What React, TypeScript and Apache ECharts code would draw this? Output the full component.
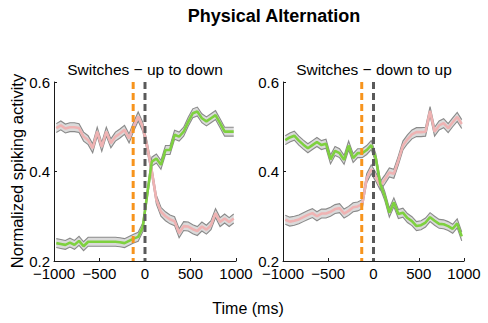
import React, { useEffect, useRef } from "react";
import * as echarts from "echarts";

// Bin centres (ms relative to the switch)
const times = [
  -975, -925, -875, -825, -775, -725, -675, -625, -575, -525,
  -475, -425, -375, -325, -275, -225, -175, -125, -75, -25,
  25, 75, 125, 175, 225, 275, 325, 375, 425, 475,
  525, 575, 625, 675, 725, 775, 825, 875, 925, 975,
];

// Panel 1: Switches – up to down
const upToDownPink = [
  0.497, 0.503, 0.496, 0.499, 0.499, 0.497, 0.478, 0.470, 0.452, 0.489,
  0.455, 0.489, 0.463, 0.478, 0.485, 0.493, 0.474, 0.500, 0.523, 0.500,
  0.455, 0.400, 0.337, 0.310, 0.300, 0.293, 0.289, 0.262, 0.278, 0.277,
  0.271, 0.267, 0.277, 0.270, 0.280, 0.307, 0.287, 0.295, 0.287, 0.295,
];
const upToDownGreen = [
  0.240, 0.238, 0.236, 0.241, 0.236, 0.245, 0.233, 0.243, 0.243, 0.243,
  0.243, 0.243, 0.243, 0.243, 0.242, 0.240, 0.245, 0.250, 0.254, 0.275,
  0.350, 0.422, 0.429, 0.415, 0.448, 0.448, 0.482, 0.478, 0.489, 0.511,
  0.530, 0.534, 0.519, 0.512, 0.519, 0.526, 0.508, 0.489, 0.489, 0.489,
];

// Panel 2: Switches – down to up
const downToUpPink = [
  0.292, 0.288, 0.290, 0.293, 0.298, 0.303, 0.307, 0.300, 0.306, 0.306,
  0.310, 0.316, 0.318, 0.306, 0.312, 0.320, 0.322, 0.327, 0.385, 0.405,
  0.388, 0.368, 0.382, 0.398, 0.395, 0.425, 0.458, 0.472, 0.483, 0.488,
  0.488, 0.489, 0.535, 0.489, 0.503, 0.508, 0.497, 0.510, 0.522, 0.506,
];
const downToUpGreen = [
  0.470, 0.476, 0.480, 0.469, 0.460, 0.452, 0.459, 0.466, 0.459, 0.462,
  0.427, 0.446, 0.441, 0.426, 0.458, 0.430, 0.441, 0.441, 0.448, 0.459,
  0.430, 0.372, 0.345, 0.308, 0.331, 0.305, 0.308, 0.296, 0.289, 0.278,
  0.280, 0.286, 0.298, 0.290, 0.283, 0.282, 0.278, 0.272, 0.284, 0.255,
];

const bandHalfWidth = 0.01; // shaded error (± around the mean)
const cueTime = -130;
const switchTime = 0;
const xTicks = [-1000, -500, 0, 500, 1000];
const yTicks = [0.2, 0.4, 0.6];

const FONT = "'Liberation Sans', Arial, Helvetica, sans-serif";
const PINK = "#efb3b3";
const GREEN = "#7ed13f";
const ORANGE = "#f7941d";
const DARK = "#5a5a5a";

function bandSeries(idx: number, values: number[]) {
  return {
    type: "custom",
    xAxisIndex: idx,
    yAxisIndex: idx,
    data: [[times[0], values[0]]],
    encode: { x: 0, y: 1 },
    silent: true,
    clip: true,
    renderItem: (_params: any, api: any) => {
      const upper = times.map((t, i) => api.coord([t, values[i] + bandHalfWidth]));
      const lower = times.map((t, i) => api.coord([t, values[i] - bandHalfWidth]));
      return {
        type: "group",
        children: [
          {
            type: "polygon",
            shape: { points: upper.concat(lower.slice().reverse()) },
            style: { fill: "#dadada" },
          },
          {
            type: "polyline",
            shape: { points: upper },
            style: { stroke: "#8a8a8a", lineWidth: 1.1, fill: null },
          },
          {
            type: "polyline",
            shape: { points: lower },
            style: { stroke: "#8a8a8a", lineWidth: 1.1, fill: null },
          },
        ],
      };
    },
  };
}

function meanSeries(idx: number, values: number[], color: string) {
  return {
    type: "line",
    xAxisIndex: idx,
    yAxisIndex: idx,
    data: times.map((t, i) => [t, values[i]]),
    symbol: "none",
    silent: true,
    lineStyle: { color, width: 2.6 },
  };
}

function vline(idx: number, t: number, color: string) {
  return {
    type: "line",
    xAxisIndex: idx,
    yAxisIndex: idx,
    data: [
      [t, yTicks[yTicks.length - 1]],
      [t, yTicks[0]],
    ],
    symbol: "none",
    silent: true,
    lineStyle: { color, width: 3, type: [7, 4] },
  };
}

const fmtX = (v: number) => (v < 0 ? "\u2212" + Math.abs(v) : String(v));

function xAxis(idx: number) {
  return {
    type: "value",
    gridIndex: idx,
    min: xTicks[0],
    max: xTicks[xTicks.length - 1],
    interval: 500,
    axisLine: { show: true, onZero: false, lineStyle: { color: "#1a1a1a", width: 1 } },
    axisTick: { show: true, inside: true, length: 3, lineStyle: { color: "#1a1a1a" } },
    axisLabel: { color: "#000", fontSize: 15, fontFamily: FONT, margin: 5, formatter: fmtX },
    splitLine: { show: false },
  };
}

function yAxis(idx: number) {
  return {
    type: "value",
    gridIndex: idx,
    min: yTicks[0],
    max: yTicks[yTicks.length - 1],
    interval: 0.2,
    axisLine: { show: true, onZero: false, lineStyle: { color: "#1a1a1a", width: 1 } },
    axisTick: { show: true, inside: true, length: 3, lineStyle: { color: "#1a1a1a" } },
    axisLabel: {
      color: "#000",
      fontSize: 15,
      fontFamily: FONT,
      margin: 4,
      formatter: (v: number) => v.toFixed(1),
    },
    splitLine: { show: false },
  };
}

export default function App() {
  const ref = useRef<HTMLDivElement>(null);
  useEffect(() => {
    if (!ref.current) return;
    const chart = echarts.init(ref.current, undefined, { renderer: "svg" });
    chart.setOption({
      animation: false,
      backgroundColor: "#fff",
      grid: [
        { left: 54, top: 82, width: 182, height: 179 },
        { left: 283, top: 82, width: 181, height: 179 },
      ],
      xAxis: [xAxis(0), xAxis(1)],
      yAxis: [yAxis(0), yAxis(1)],
      series: [
        bandSeries(0, upToDownPink),
        meanSeries(0, upToDownPink, PINK),
        bandSeries(0, upToDownGreen),
        meanSeries(0, upToDownGreen, GREEN),
        vline(0, cueTime, ORANGE),
        vline(0, switchTime, DARK),
        bandSeries(1, downToUpPink),
        meanSeries(1, downToUpPink, PINK),
        bandSeries(1, downToUpGreen),
        meanSeries(1, downToUpGreen, GREEN),
        vline(1, cueTime, ORANGE),
        vline(1, switchTime, DARK),
      ],
      graphic: [
        {
          type: "text",
          x: 274,
          y: 16,
          style: {
            text: "Physical Alternation",
            font: `bold 18px ${FONT}`,
            fill: "#000",
            textAlign: "center",
            textVerticalAlign: "middle",
          },
        },
        {
          type: "text",
          x: 145,
          y: 69,
          style: {
            text: "Switches \u2212 up to down",
            font: `15.5px ${FONT}`,
            fill: "#000",
            textAlign: "center",
            textVerticalAlign: "middle",
          },
        },
        {
          type: "text",
          x: 374,
          y: 69,
          style: {
            text: "Switches \u2212 down to up",
            font: `15.5px ${FONT}`,
            fill: "#000",
            textAlign: "center",
            textVerticalAlign: "middle",
          },
        },
        {
          type: "text",
          x: 17,
          y: 171,
          rotation: Math.PI / 2,
          style: {
            text: "Normalized spiking activity",
            font: `16.5px ${FONT}`,
            fill: "#000",
            textAlign: "center",
            textVerticalAlign: "middle",
          },
        },
        {
          type: "text",
          x: 248,
          y: 308,
          style: {
            text: "Time (ms)",
            font: `16px ${FONT}`,
            fill: "#000",
            textAlign: "center",
            textVerticalAlign: "middle",
          },
        },
      ],
    });
    return () => chart.dispose();
  }, []);
  return (
    <div
      ref={ref}
      style={{ position: "fixed", left: 0, top: 0, width: 488, height: 323, background: "#fff" }}
    />
  );
}
